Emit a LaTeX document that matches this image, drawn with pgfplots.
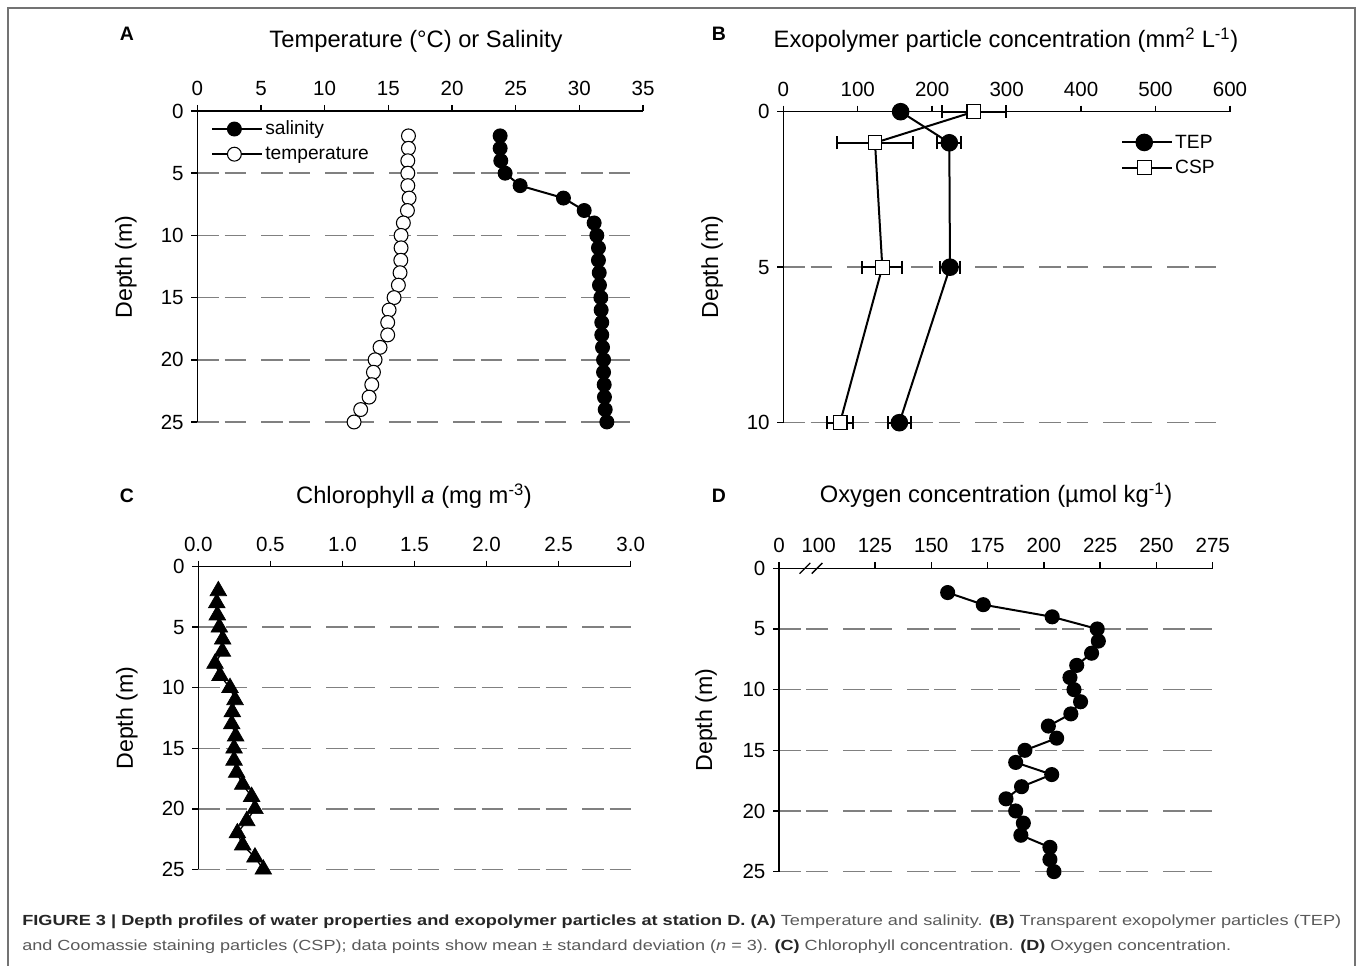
\documentclass[border=0pt]{standalone}
\usepackage{fontspec}
\setmainfont{Liberation Sans}
\usepackage{graphicx}
\usepackage{pgfplots}
\pgfplotsset{compat=1.18}

\pgfplotsset{
  prof/.style={
    scale only axis,
    y dir=reverse,
    axis x line*=top,
    axis y line*=left,
    axis line style={line width=1.1pt, black},
    every tick/.style={line width=1.1pt, black},
    tick align=outside,
    major tick length=4.5pt,
    ymajorgrids,
    grid style={black!50, line width=1.1pt, dash pattern=on 16.3pt off 4.1pt on 16.3pt off 11.3pt},
    clip=false,
    /pgf/number format/assume math mode=true,
    ticklabel style={font=\fontsize{15.4}{18}\selectfont},
    xticklabel style={yshift=3.5pt},
    yticklabel style={xshift=-2.2pt},
    ymin=0, ymax=25, ytick={0,5,...,25},
    every axis plot/.append style={line width=1.5pt, black},
  },
  leg/.style={
    legend style={draw=none, fill=none, inner sep=0pt, row sep=3.5pt,
      font=\fontsize{14.4}{17}\selectfont},
    legend cell align=left,
    legend image code/.code={\draw[mark repeat=2,mark phase=2,##1] plot coordinates {(0pt,0pt)(16.5pt,0pt)(33pt,0pt)};\path (33pt,0pt) -- (37pt,0pt);},
  },
}

\newsavebox\capA
\newsavebox\capB

\begin{document}%
\sbox\capA{\fontsize{11}{13}\selectfont\color{black!85}\textbf{FIGURE 3 | Depth profiles of water properties and exopolymer particles at station D. (A)} \color{black!65}Temperature and salinity. \color{black!85}\textbf{(B)} \color{black!65}Transparent exopolymer particles (TEP)}%
\sbox\capB{\fontsize{11}{13}\selectfont\color{black!65}and Coomassie staining particles (CSP); data points show mean ± standard deviation (\textit{n} = 3). \color{black!85}\textbf{(C)} \color{black!65}Chlorophyll concentration. \color{black!85}\textbf{(D)} \color{black!65}Oxygen concentration.}%
\pgfmathsetmacro\sA{989.25/\the\wd\capA}%
\pgfmathsetmacro\sB{906.75/\the\wd\capB}%
\begin{tikzpicture}[x=0.75pt,y=0.75pt]
\path[use as bounding box] (0,0) rectangle (1360,966);
\draw[black!55, line width=1.1pt] (8,0) -- (8,958) -- (1355,958) -- (1355,0);

% ---------- Panel A ----------
\begin{axis}[prof, leg,
  at={(197.3*0.75pt,855*0.75pt)}, anchor=north west,
  width=334.3pt, height=233.25pt,
  xmin=0, xmax=35, xtick={0,5,...,35},
  legend style={at={(axis description cs:0.031,0.977)}, anchor=north west},
]
\addplot[mark=*, mark size=5.2pt, mark options={fill=black, draw=black, line width=0.8pt}] table {
x y
23.78 2
23.78 3
23.83 4
24.17 5
25.35 6
28.75 7
30.38 8
31.16 9
31.37 10
31.50 11
31.50 12
31.56 13
31.58 14
31.69 15
31.71 16
31.76 17
31.76 18
31.82 19
31.90 20
31.90 21
31.95 22
31.97 23
32.03 24
32.16 25
};
\addlegendentry{salinity}
\addplot[mark=*, mark size=5.2pt, mark options={fill=white, draw=black, line width=0.8pt}] table {
x y
16.58 2
16.58 3
16.53 4
16.53 5
16.53 6
16.63 7
16.50 8
16.18 9
16.00 10
16.00 11
15.98 12
15.92 13
15.79 14
15.45 15
15.06 16
14.95 17
14.95 18
14.35 19
13.96 20
13.83 21
13.70 22
13.49 23
12.83 24
12.31 25
};
\addlegendentry{temperature}
\end{axis}

% ---------- Panel B ----------
\begin{axis}[prof, leg,
  at={(783.3*0.75pt,854.3*0.75pt)}, anchor=north west,
  width=335pt, height=233.25pt,
  xmin=0, xmax=600, xtick={0,100,...,600},
  ymin=0, ymax=10, ytick={0,5,10},
  legend style={at={(axis description cs:0.756,0.935)}, anchor=north west},
]
\addplot[mark=*, mark size=6.2pt, mark options={fill=black, draw=black, line width=0.8pt},
  error bars/.cd, x dir=both, x explicit, error mark=|,
  error bar style={line width=1.5pt, black},
  error mark options={mark size=5pt, line width=1.5pt, black}]
  table[x=x, y=y, x error=e] {
x y e
157.6 0 5
223.0 1 16.1
223.9 5 13.9
155.9 10 15.0
};
\addlegendentry{TEP}
\addplot[mark=square*, mark size=5.2pt, mark options={fill=white, draw=black, line width=0.8pt},
  error bars/.cd, x dir=both, x explicit, error mark=|,
  error bar style={line width=1.5pt, black},
  error mark options={mark size=5pt, line width=1.5pt, black}]
  table[x=x, y=y, x error=e] {
x y e
256.1 0 42.6
123.2 1 51.5
133.0 5 26.9
76.2 10 17.5
};
\addlegendentry{CSP}
\end{axis}

% ---------- Panel C ----------
\begin{axis}[prof,
  at={(198.3*0.75pt,399.3*0.75pt)}, anchor=north west,
  width=324.3pt, height=227pt,
  xmin=0, xmax=3, xtick={0,0.5,...,3},
  xticklabels={0.0,0.5,1.0,1.5,2.0,2.5,3.0},
]
\addplot[line width=1pt, mark=triangle*, mark size=7.2pt, mark options={fill=black, draw=black, line width=0.5pt}] table {
x y
0.139 2
0.128 3
0.132 4
0.146 5
0.169 6
0.167 7
0.116 8
0.151 9
0.220 10
0.255 11
0.236 12
0.232 13
0.259 14
0.248 15
0.248 16
0.266 17
0.308 18
0.370 19
0.393 20
0.336 21
0.271 22
0.308 23
0.393 24
0.451 25
};
\end{axis}

% ---------- Panel D ----------
\begin{axis}[prof,
  at={(779*0.75pt,397.7*0.75pt)}, anchor=north west,
  width=325.3pt, height=227.5pt,
  xmin=82.4, xmax=275, xtick={82.4,125,150,...,275},
  xticklabels={0,125,150,175,200,225,250,275},
  extra x ticks={100}, extra x tick labels={100},
  extra x tick style={grid=none, every tick/.style={draw=none}},
]
\addplot[mark=*, mark size=4.9pt, mark options={fill=black, draw=black}] table {
x y
157.3 2
173.1 3
203.7 4
223.7 5
224.2 6
221.2 7
214.6 8
211.6 9
213.4 10
216.3 11
212.0 12
202.0 13
205.7 14
191.6 15
187.5 16
203.5 17
190.1 18
183.2 19
187.5 20
190.9 21
189.8 22
202.7 23
202.7 24
204.5 25
};
\draw[line width=1pt] ([xshift=-4pt,yshift=-4pt]axis cs:93.9,0) -- ([xshift=4pt,yshift=4pt]axis cs:93.9,0);
\draw[line width=1pt] ([xshift=-4pt,yshift=-4pt]axis cs:99.3,0) -- ([xshift=4pt,yshift=4pt]axis cs:99.3,0);
\end{axis}

% ---------- Titles and labels ----------
\begin{scope}[every node/.style={inner sep=0pt}]
\node[anchor=base, font=\fontsize{14.6}{17}\selectfont\bfseries] at (127,925) {A};
\node[anchor=base, font=\fontsize{14.6}{17}\selectfont\bfseries] at (719,925) {B};
\node[anchor=base, font=\fontsize{14.6}{17}\selectfont\bfseries] at (127,463) {C};
\node[anchor=base, font=\fontsize{14.6}{17}\selectfont\bfseries] at (719,463) {D};
\node[anchor=base, font=\fontsize{17.8}{20}\selectfont] at (416,918.5) {Temperature (°C) or Salinity};
\node[anchor=base, font=\fontsize{17.8}{20}\selectfont] at (1006,918.5) {Exopolymer particle concentration (mm\textsuperscript{2} L\textsuperscript{-1})};
\node[anchor=base, font=\fontsize{17.8}{20}\selectfont] at (414,462) {Chlorophyll \textit{a} (mg m\textsuperscript{-3})};
\node[anchor=base, font=\fontsize{17.8}{20}\selectfont] at (996,463) {Oxygen concentration (µmol kg\textsuperscript{-1})};
\node[rotate=90, font=\fontsize{17.4}{20}\selectfont] at (126,699) {Depth (m)};
\node[rotate=90, font=\fontsize{17.4}{20}\selectfont] at (712,699) {Depth (m)};
\node[rotate=90, font=\fontsize{17.4}{20}\selectfont] at (127,248) {Depth (m)};
\node[rotate=90, font=\fontsize{17.4}{20}\selectfont] at (706,246) {Depth (m)};
\node[anchor=base west] at (22,40) {\scalebox{\sA}[1]{\usebox\capA}};
\node[anchor=base west] at (22,15) {\scalebox{\sB}[1]{\usebox\capB}};
\end{scope}
\end{tikzpicture}%
\end{document}
